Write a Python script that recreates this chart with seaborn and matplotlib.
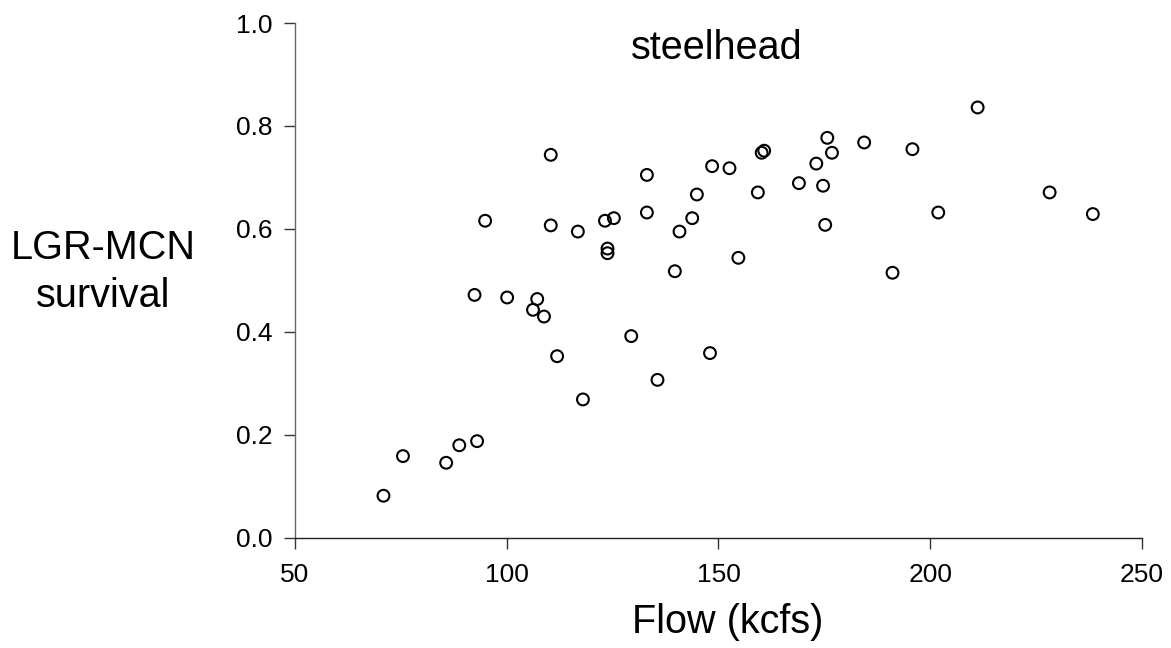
import matplotlib
matplotlib.use("Agg")
import matplotlib.pyplot as plt
import seaborn as sns
import pandas as pd

# flow (kcfs) vs LGR-MCN survival
flow = [70.9, 75.5, 85.7, 88.8, 93.0, 92.4, 94.9, 100.1, 106.2, 107.2,
        108.8, 110.4, 110.4, 111.9, 116.8, 118.0, 123.2, 123.8, 123.8, 125.3,
        129.4, 133.1, 133.1, 135.6, 139.7, 140.8, 143.8, 144.9, 148.0, 148.5,
        152.6, 154.7, 159.3, 160.2, 160.8, 169.0, 173.1, 174.7, 175.2, 175.7,
        176.8, 184.4, 191.1, 195.8, 201.9, 211.2, 228.2, 238.4]
survival = [0.082, 0.159, 0.146, 0.180, 0.188, 0.472, 0.616, 0.467, 0.443, 0.464,
            0.430, 0.744, 0.607, 0.353, 0.595, 0.269, 0.616, 0.562, 0.553, 0.621,
            0.392, 0.705, 0.632, 0.307, 0.518, 0.595, 0.621, 0.667, 0.359, 0.722,
            0.718, 0.544, 0.671, 0.748, 0.752, 0.689, 0.727, 0.684, 0.608, 0.777,
            0.748, 0.768, 0.515, 0.755, 0.632, 0.836, 0.671, 0.629]

x_ticks = [50, 100, 150, 200, 250]
y_ticks = [0.0, 0.2, 0.4, 0.6, 0.8, 1.0]

df = pd.DataFrame({"flow": flow, "survival": survival})

sns.set_style("ticks")
plt.rcParams["font.family"] = ["Liberation Sans", "DejaVu Sans"]
plt.rcParams["text.color"] = "black"

fig = plt.figure(figsize=(11.71, 6.48), dpi=100)
ax = fig.add_axes([0.2519, 0.1698, 0.7233, 0.7947])

sns.scatterplot(data=df, x="flow", y="survival", ax=ax, s=72,
                facecolors="none", edgecolors="black", linewidth=1.5,
                zorder=3, clip_on=False)

ax.set_xlim(50, 250)
ax.set_ylim(0, 1)
ax.set_xticks(x_ticks)
ax.set_xticklabels([str(t) for t in x_ticks])
ax.set_yticks(y_ticks)
ax.set_yticklabels([f"{t:.1f}" for t in y_ticks])
ax.tick_params(axis="both", labelsize=19, length=8, width=1, direction="out",
               colors="#333333", labelcolor="black")
ax.tick_params(axis="x", pad=10)
ax.tick_params(axis="y", pad=8)

sns.despine(ax=ax)
ax.spines["left"].set_color("#666666")
ax.spines["bottom"].set_color("#222222")
ax.spines["left"].set_linewidth(1)
ax.spines["bottom"].set_linewidth(1)

ax.set_xlabel("")
ax.set_ylabel("")
fig.text(728 / 1171, 1 - 622 / 648, "Flow (kcfs)", fontsize=28.5,
         ha="center", va="center", color="black")
fig.text(103 / 1171, 1 - 272 / 648, "LGR-MCN\nsurvival", fontsize=28.5,
         ha="center", va="center", multialignment="center", linespacing=1.35,
         color="black")
ax.text(0.498, 0.951, "steelhead", transform=ax.transAxes, fontsize=28.5,
        ha="center", va="center", color="black")

fig.savefig("out.png", dpi=100)
